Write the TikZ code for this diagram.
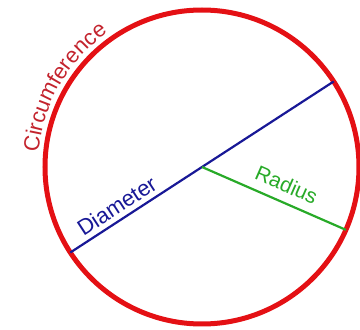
\documentclass[tikz,border=0pt]{standalone}
\usepackage{fontspec}
\setmainfont{Liberation Sans}
\usetikzlibrary{decorations.text,calc}
\definecolor{circred}{RGB}{228,16,20}
\definecolor{txtred}{RGB}{195,35,45}
\definecolor{diamblue}{RGB}{24,24,150}
\definecolor{radgreen}{RGB}{40,170,40}
\begin{document}
\begin{tikzpicture}[x=1pt,y=1pt,
  lbl/.style={sloped, anchor=base, inner sep=0pt}]
\useasboundingbox (0,0) rectangle (360,330);
\coordinate (c) at (202,163);
\coordinate (d1) at ($(c)+(213:157)$);
\coordinate (d2) at ($(c)+(33:157)$);
\coordinate (r1) at ($(c)+(-23.6:157)$);
\draw[circred, line width=5pt] (c) circle[radius=157];
\draw[diamblue, line width=2.2pt] (d1) -- node[lbl, pos=0.205, yshift=6pt, text=diamblue, font=\fontsize{22}{26}\selectfont] (dl) {Diameter} (d2);
\draw[radgreen, line width=2.2pt] (c) -- node[lbl, pos=0.54, yshift=10pt, text=radgreen, font=\fontsize{21}{25}\selectfont] (rl) {Radius} (r1);
\path[decorate, decoration={text along path, text align=center, text color=txtred,
  text={|\fontsize{22}{26}\selectfont|Circumference}}]
  ($(c)+(176:164)$) arc[start angle=176, end angle=124, radius=164];
\end{tikzpicture}
\end{document}
